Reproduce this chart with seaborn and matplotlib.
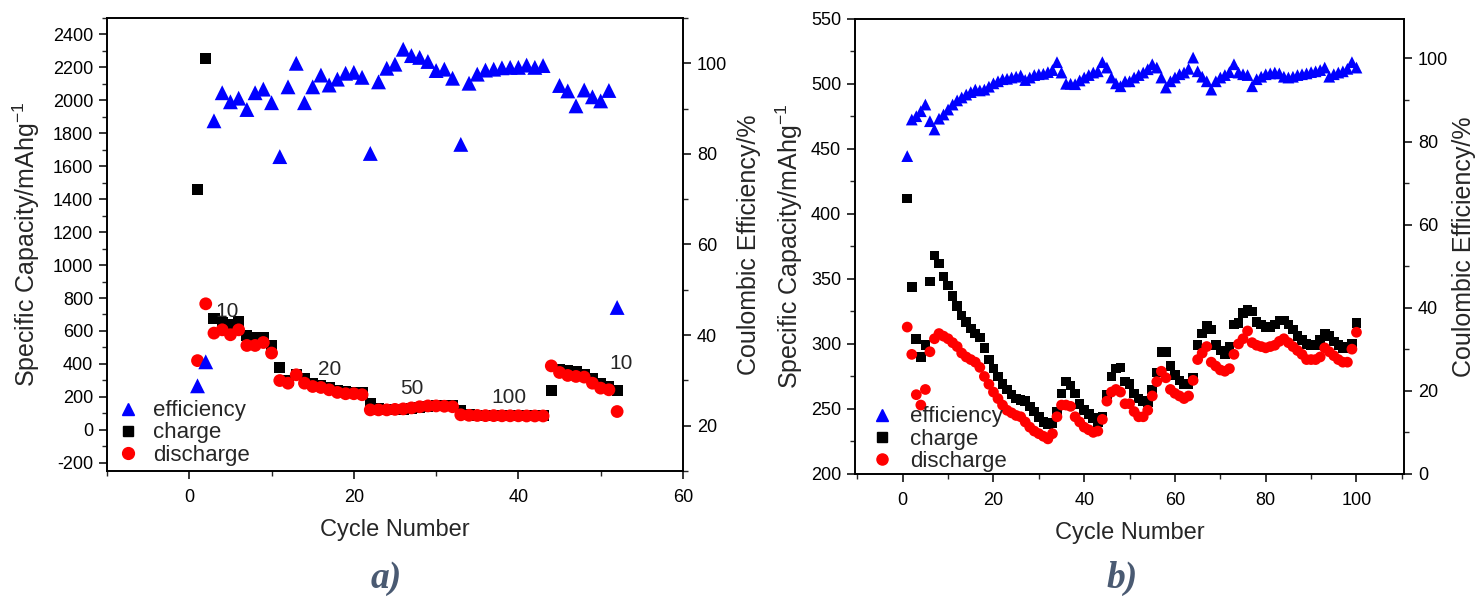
import numpy as np
import pandas as pd
import matplotlib
matplotlib.use("Agg")
import matplotlib.pyplot as plt
from matplotlib.lines import Line2D
from matplotlib.ticker import MultipleLocator
import seaborn as sns

# ---------------- data: panel a ----------------
cycles_a = list(range(1, 53))
charge_a = [1460, 2253, 674, 650, 640, 655, 570, 560, 562, 512,
            379, 300, 334, 312, 280, 270, 258, 240, 230, 226,
            228, 158, 126, 122, 124, 124, 131, 138, 144, 147,
            145, 145, 115, 92, 89, 88, 87, 87, 86, 86,
            85, 85, 85, 240, 368, 358, 352, 338, 310, 280,
            262, 237]
discharge_a = [420, 765, 587, 607, 577, 607, 512, 512, 530, 466,
               299, 283, 334, 283, 263, 257, 243, 227, 219, 219,
               213, 121, 121, 121, 124, 127, 133, 140, 145, 145,
               143, 140, 91, 88, 87, 86, 86, 85, 85, 85,
               84, 84, 84, 388, 348, 330, 324, 320, 283, 253,
               243, 111]
eff_a = [28.8, 34.1, 87.3, 93.5, 91.5, 92.3, 89.8, 93.5, 94.3, 91.3,
         79.4, 94.8, 100.0, 91.3, 94.8, 97.4, 95.2, 96.5, 97.8, 98.0,
         96.9, 80.1, 95.9, 98.9, 99.8, 103.1, 101.7, 101.3, 100.4, 98.4,
         98.7, 96.7, 82.1, 95.6, 97.6, 98.5, 98.7, 99.0, 99.1, 99.1,
         99.6, 99.1, 99.5, np.nan, 95.1, 93.9, 90.6, 94.1, 92.6, 91.7,
         94.0, 46.1]
rate_labels_a = ["10", "20", "50", "100", "10"]
rate_label_cycles_a = [4.6, 17, 27.1, 38.9, 52.5]
rate_label_values_a = [720, 368, 253, 199, 405]

# ---------------- data: panel b ----------------
cycles_b = list(range(1, 101))
charge_b = [412, 344, 304, 290, 299, 348, 368, 362, 352, 345,
            337, 329, 322, 317, 312, 308, 305, 297, 288, 281,
            275, 269, 265, 261, 258, 257, 256, 252, 248, 244,
            240, 238, 239, 248, 262, 271, 268, 262, 254, 249,
            246, 243, 240, 244, 261, 275, 281, 282, 271, 269,
            262, 258, 256, 255, 265, 278, 294, 294, 283, 276,
            272, 269, 269, 274, 299, 308, 314, 311, 299, 295,
            292, 298, 315, 316, 324, 326, 325, 317, 315, 313,
            313, 315, 318, 318, 315, 311, 306, 303, 300, 299,
            299, 303, 308, 306, 302, 299, 297, 298, 300, 316]
discharge_b = [313, 292, 261, 253, 265, 294, 304, 308, 306, 304,
               301, 298, 293, 290, 288, 286, 282, 275, 269, 263,
               258, 253, 249, 247, 245, 244, 240, 236, 233, 231,
               229, 227, 231, 244, 253, 253, 252, 244, 240, 236,
               234, 232, 233, 242, 256, 263, 265, 263, 254, 254,
               248, 244, 244, 249, 260, 271, 279, 274, 265, 262,
               260, 258, 260, 272, 288, 293, 298, 286, 283, 280,
               279, 281, 292, 300, 304, 310, 301, 299, 298, 297,
               298, 299, 302, 304, 301, 298, 295, 292, 288, 288,
               288, 290, 297, 294, 291, 288, 286, 286, 296, 309]
eff_b = [76.5, 85.3, 86.1, 87.3, 88.9, 84.9, 82.9, 85.5, 86.5, 87.7,
         88.9, 89.9, 90.6, 91.3, 91.9, 92.5, 92.3, 92.5, 93.2, 94.0,
         94.5, 95.0, 95.1, 95.4, 95.6, 95.9, 94.8, 95.4, 96.0, 96.2,
         96.3, 96.7, 97.2, 99.1, 96.6, 93.9, 93.9, 93.8, 94.7, 95.4,
         96.0, 96.6, 96.9, 99.1, 97.8, 95.4, 94.0, 93.3, 94.5, 94.5,
         95.4, 96.0, 96.6, 97.4, 98.6, 97.8, 95.4, 93.0, 94.5, 95.4,
         96.2, 96.6, 97.5, 100.2, 96.9, 95.6, 94.5, 92.5, 94.5, 95.4,
         96.0, 96.7, 98.6, 96.6, 96.2, 96.0, 93.3, 95.0, 95.6, 96.2,
         96.4, 96.6, 96.4, 95.6, 95.4, 95.6, 96.0, 96.2, 96.4, 96.7,
         96.9, 97.2, 97.8, 95.6, 96.2, 96.6, 96.9, 97.5, 99.1, 97.8]

series_names = ["efficiency", "charge", "discharge"]
panel_tags = ["a)", "b)"]

# ---------------- style ----------------
sns.set_theme(style="ticks")
plt.rcParams["font.family"] = ["Liberation Sans", "DejaVu Sans"]
plt.rcParams["mathtext.default"] = "regular"
plt.rcParams["axes.unicode_minus"] = False
plt.rcParams["axes.linewidth"] = 1.2

BLUE, BLACK, RED = "#0000ff", "#000000", "#ff0000"
TICK_FS, XLABEL_FS, YLABEL_FS, LEG_FS = 13, 17, 18, 16

fig = plt.figure(figsize=(14.76, 5.98), dpi=100)
axA = fig.add_axes([0.0725, 0.2124, 0.3902, 0.7575])
axB = fig.add_axes([0.5793, 0.2074, 0.3720, 0.7609])


def style_axes(ax, ax2):
    for a in (ax, ax2):
        for sp in a.spines.values():
            sp.set_visible(True)
            sp.set_color("black")
            sp.set_linewidth(1.2)
        a.tick_params(which="major", direction="out", length=6, width=1.1,
                      labelsize=TICK_FS, colors="black", pad=4)
        a.tick_params(which="minor", direction="out", length=3.5, width=1.0)
    ax.tick_params(axis="x", which="major", pad=7)
    ax.tick_params(axis="y", which="both", right=False, left=True)
    ax.tick_params(axis="x", which="both", top=False, bottom=True)
    ax2.tick_params(axis="y", which="both", right=True, left=False)


def draw_panel(ax, cyc, chg, dis, eff, ms_tri, ms_sq, ms_ci):
    df = pd.DataFrame({"cycle": cyc, "charge": chg, "discharge": dis, "eff": eff})
    sns.scatterplot(data=df, x="cycle", y="charge", ax=ax, marker="s",
                    color=BLACK, s=ms_sq, linewidth=0, edgecolor="none", zorder=3)
    sns.scatterplot(data=df, x="cycle", y="discharge", ax=ax, marker="o",
                    color=RED, s=ms_ci, linewidth=0, edgecolor="none", zorder=4)
    ax2 = ax.twinx()
    sns.scatterplot(data=df.dropna(), x="cycle", y="eff", ax=ax2, marker="^",
                    color=BLUE, s=ms_tri, linewidth=0, edgecolor="none", zorder=5)
    return ax2


# ---------------- panel a ----------------
axA2 = draw_panel(axA, cycles_a, charge_a, discharge_a, eff_a, 115, 64, 85)
axA.set_xlim(-10, 60)
axA.set_ylim(-250, 2500)
axA2.set_ylim(10, 110)
axA.xaxis.set_major_locator(MultipleLocator(20))
axA.xaxis.set_minor_locator(MultipleLocator(10))
axA.yaxis.set_major_locator(MultipleLocator(200))
axA.yaxis.set_minor_locator(MultipleLocator(100))
axA2.yaxis.set_major_locator(MultipleLocator(20))
axA2.yaxis.set_minor_locator(MultipleLocator(10))
style_axes(axA, axA2)
axA.set_xlabel("Cycle Number", fontsize=XLABEL_FS, labelpad=9)
axA.set_ylabel("Specific Capacity/mAhg$^{-1}$", fontsize=YLABEL_FS, labelpad=8)
axA2.set_ylabel("Coulombic Efficiency/%", fontsize=YLABEL_FS, labelpad=7)
for t, cx, cy in zip(rate_labels_a, rate_label_cycles_a, rate_label_values_a):
    axA.text(cx, cy, t, fontsize=15, ha="center", va="center", zorder=6)

# ---------------- panel b ----------------
axB2 = draw_panel(axB, cycles_b, charge_b, discharge_b, eff_b, 72, 48, 60)
axB.set_xlim(-10.5, 110.5)
axB.set_ylim(200, 550)
axB2.set_ylim(0, 109.5)
axB.xaxis.set_major_locator(MultipleLocator(20))
axB.xaxis.set_minor_locator(MultipleLocator(10))
axB.yaxis.set_major_locator(MultipleLocator(50))
axB.yaxis.set_minor_locator(MultipleLocator(25))
axB2.yaxis.set_major_locator(MultipleLocator(20))
axB2.yaxis.set_minor_locator(MultipleLocator(10))
style_axes(axB, axB2)
axB.set_xlabel("Cycle Number", fontsize=XLABEL_FS, labelpad=9)
axB.set_ylabel("Specific Capacity/mAhg$^{-1}$", fontsize=YLABEL_FS, labelpad=4)
axB2.set_ylabel("Coulombic Efficiency/%", fontsize=YLABEL_FS, labelpad=3)

# ---------------- legends ----------------
def add_legend(ax, msize, anchor, pad):
    handles = [
        Line2D([], [], linestyle="none", marker="^", color=BLUE, markersize=msize[0]),
        Line2D([], [], linestyle="none", marker="s", color=BLACK, markersize=msize[1]),
        Line2D([], [], linestyle="none", marker="o", color=RED, markersize=msize[2]),
    ]
    leg = ax.legend(handles, series_names, loc="lower left", bbox_to_anchor=anchor,
                    frameon=False, fontsize=LEG_FS, handlelength=1.0,
                    handletextpad=pad, labelspacing=0.05, borderaxespad=0,
                    borderpad=0)
    leg.set_zorder(10)
    return leg

add_legend(axA2, (9, 7, 8.5), (0.018, 0.012), 0.6)
add_legend(axB2, (8, 6.5, 8), (0.028, 0.005), 0.8)

# ---------------- panel tags ----------------
for tag, xc in zip(panel_tags, (386, 1122)):
    fig.text(xc / 1476, 1 - 578 / 598, tag, fontsize=27, fontstyle="italic",
             fontweight="bold", family=["Liberation Serif", "DejaVu Serif"],
             color="#4a5a72", ha="center", va="center")

fig.savefig("out.png", dpi=100)
